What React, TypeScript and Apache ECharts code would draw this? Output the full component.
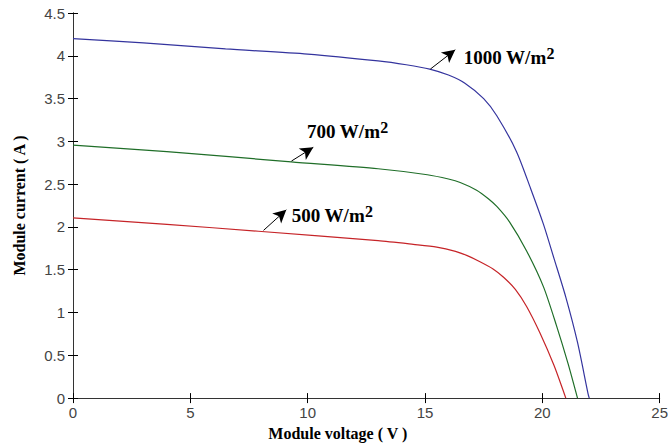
import React, { useEffect, useRef } from "react";
import * as echarts from "echarts";

const xTicks = [0, 5, 10, 15, 20, 25];
const yTicks = [0, 0.5, 1, 1.5, 2, 2.5, 3, 3.5, 4, 4.5];

const curve1000: [number, number][] = [
  [0, 4.2], [3, 4.15], [6.5, 4.08], [10, 4.02], [13, 3.94], [14.2, 3.895], [15.2, 3.845],
  [16.0, 3.775], [16.7, 3.68], [17.5, 3.5], [18.06, 3.3], [18.9, 2.88], [19.5, 2.45], [20.05, 2.03],
  [20.5, 1.63], [21.0, 1.18], [21.5, 0.65], [21.95, 0.05], [22.0, 0],
];
const curve700: [number, number][] = [
  [0, 2.955], [4, 2.88], [9.3, 2.76], [13, 2.68], [15.1, 2.61], [16.0, 2.56], [16.5, 2.52],
  [17.2, 2.43], [17.7, 2.33], [18.06, 2.24], [18.6, 2.06], [19.33, 1.72], [20.05, 1.3],
  [20.6, 0.85], [21.1, 0.4], [21.45, 0.05], [21.5, 0],
];
const curve500: [number, number][] = [
  [0, 2.107], [4, 2.03], [7.9, 1.95], [13, 1.84], [14.5, 1.797], [15.5, 1.765], [16.3, 1.715],
  [16.8, 1.665], [17.3, 1.6], [17.9, 1.51], [18.36, 1.41], [18.85, 1.27], [19.33, 1.07],
  [19.9, 0.76], [20.5, 0.38], [20.95, 0.04], [21.0, 0],
];

const labels = ["1000", "700", "500"];
const arrowFrom: [number, number][] = [[15.23, 3.845], [9.31, 2.77], [8.12, 1.96]];
const arrowTo: [number, number][] = [[16.29, 4.07], [10.24, 2.93], [9.09, 2.2]];
const labelAt: [number, number][] = [[16.65, 3.98], [9.97, 3.11], [9.32, 2.13]];

const colors = ["#34349e", "#1f6e28", "#c62428"];

export default function App() {
  const ref = useRef<HTMLDivElement>(null);
  useEffect(() => {
    if (!ref.current) return;
    const chart = echarts.init(ref.current, undefined, { renderer: "svg" });
    const curves = [curve1000, curve700, curve500];
    const tickFont = { fontFamily: "Liberation Sans", fontSize: 15, color: "#444" };
    const axisLine = { show: true, lineStyle: { color: "#333", width: 1 } };
    const series: any[] = curves.map((c, i) => ({
      type: "line",
      data: c,
      showSymbol: false,
      smooth: 0.25,
      lineStyle: { color: colors[i], width: 1.2 },
      markLine: {
        silent: true,
        symbol: ["none", "arrow"],
        symbolSize: [10, 13],
        lineStyle: { color: "#000", width: 1, type: "solid" },
        label: { show: false },
        data: [[{ coord: arrowFrom[i] }, { coord: arrowTo[i] }]],
      },
      markPoint: {
        silent: true,
        symbol: "circle",
        symbolSize: 0,
        data: [{ coord: labelAt[i] }],
        label: {
          show: true,
          position: "right",
          distance: 0,
          formatter: "{a|" + labels[i] + " W/m}{s|2}",
          rich: {
            a: { fontFamily: "Liberation Serif", fontWeight: "bold", fontSize: 19, color: "#000" },
            s: { fontFamily: "Liberation Serif", fontWeight: "bold", fontSize: 16, color: "#000", verticalAlign: "bottom", padding: [0, 0, 8, 0] },
          },
        },
      },
    }));
    chart.setOption({
      animation: false,
      grid: { left: 73, right: 7, top: 13, bottom: 44 },
      xAxis: [
        {
          type: "value", min: 0, max: 25, interval: 5,
          axisLine, axisTick: { inside: true, length: 5, lineStyle: { color: "#000" } },
          splitLine: { show: false },
          axisLabel: { ...tickFont, margin: 7, formatter: (v: number) => (xTicks.includes(v) ? String(v) : "") },
          name: "Module voltage ( V )", nameLocation: "middle", nameGap: 24,
          nameTextStyle: { fontFamily: "Liberation Serif", fontWeight: "bold", fontSize: 16, color: "#000", padding: [0, 57, 0, 0] },
        },
        {
          type: "value", position: "top", min: 0, max: 25, interval: 5,
          axisLine, axisTick: { inside: true, length: 5, lineStyle: { color: "#000" } },
          axisLabel: { show: false }, splitLine: { show: false },
        },
      ],
      yAxis: [
        {
          type: "value", min: 0, max: 4.5, interval: 0.5,
          axisLine, axisTick: { inside: true, length: 5, lineStyle: { color: "#000" } },
          splitLine: { show: false },
          axisLabel: { ...tickFont, margin: 8, formatter: (v: number) => (yTicks.includes(v) ? String(v) : "") },
          name: "Module current ( A )", nameLocation: "middle", nameGap: 46,
          nameTextStyle: { fontFamily: "Liberation Serif", fontWeight: "bold", fontSize: 16, color: "#000" },
        },
        {
          type: "value", position: "right", min: 0, max: 4.5, interval: 0.5,
          axisLine, axisTick: { inside: true, length: 5, lineStyle: { color: "#000" } },
          axisLabel: { show: false }, splitLine: { show: false },
        },
      ],
      series,
    });
    return () => chart.dispose();
  }, []);
  return (
    <div
      ref={ref}
      style={{ position: "fixed", left: 0, top: 0, width: 671, height: 446, background: "#fff" }}
    />
  );
}
